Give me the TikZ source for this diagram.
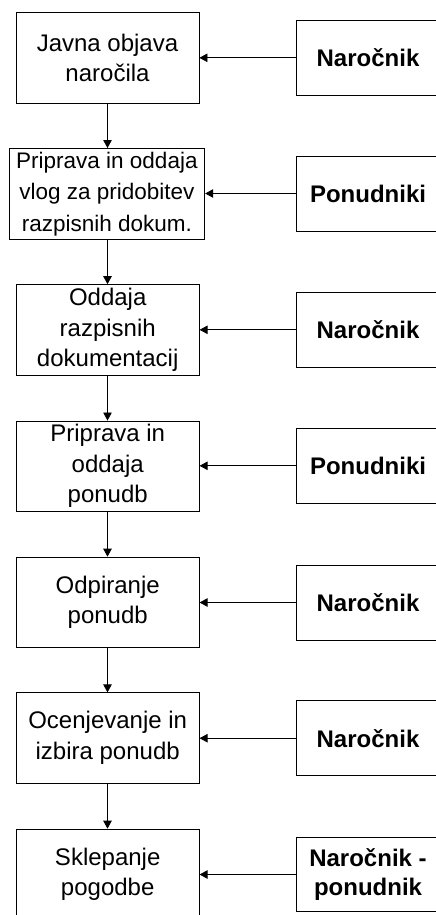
\documentclass[tikz,border=0pt]{standalone}
\usepackage{fontspec}
\setmainfont{Liberation Sans}
\usetikzlibrary{arrows.meta}
\begin{document}
\begin{tikzpicture}[x=1pt,y=-1pt,
  stage/.style={draw, line width=0.8pt, minimum width=183pt, minimum height=90.5pt,
    inner sep=0pt, align=center, font=\fontsize{24}{30.5}\selectfont},
  actor/.style={draw, line width=0.8pt, minimum width=144pt, minimum height=75pt,
    inner sep=0pt, align=center, font=\fontsize{24}{28.5}\selectfont\bfseries},
  flow/.style={-{Triangle[length=8pt,width=8.5pt]}, line width=0.8pt}]
\useasboundingbox (0,0) rectangle (436,915);
\clip (0,0) rectangle (436,915);

% process steps (left column)
\node[stage] (s1) at (107.5,57.7)  {Javna objava\\naročila};
\node[stage, minimum width=195.7pt, font=\fontsize{22.5}{31.5}\selectfont]
             (s2) at (106.9,193.7) {Priprava in oddaja\\vlog za pridobitev\\razpisnih dokum.};
\node[stage] (s3) at (107.7,329.8) {Oddaja\\razpisnih\\dokumentacij};
\node[stage] (s4) at (107.7,466.2) {Priprava in\\oddaja\\ponudb};
\node[stage] (s5) at (107.7,602.3) {Odpiranje\\ponudb};
\node[stage] (s6) at (107.7,738.0) {Ocenjevanje in\\izbira ponudb};
\node[stage] (s7) at (107.7,874.3) {Sklepanje\\pogodbe};

% responsible parties (right column)
\node[actor] (a1) at (368,57.8)  {Naročnik};
\node[actor] (a2) at (368,193.5) {Ponudniki};
\node[actor] (a3) at (368,329.8) {Naročnik};
\node[actor] (a4) at (368,465.8) {Ponudniki};
\node[actor] (a5) at (368,602.5) {Naročnik};
\node[actor] (a6) at (368,738.2) {Naročnik};
\node[actor, minimum height=74.4pt] (a7) at (368,874.5) {Naročnik -\\ponudnik};

% sequence between steps
\foreach \i/\j in {1/2,2/3,3/4,4/5,5/6,6/7}
  \draw[flow] (s1.south |- s\i.south) -- (s1.south |- s\j.north);

% party to step
\foreach \i in {1,...,7}
  \draw[flow] (a\i.west) -- (s\i.east |- a\i.west);
\end{tikzpicture}
\end{document}
